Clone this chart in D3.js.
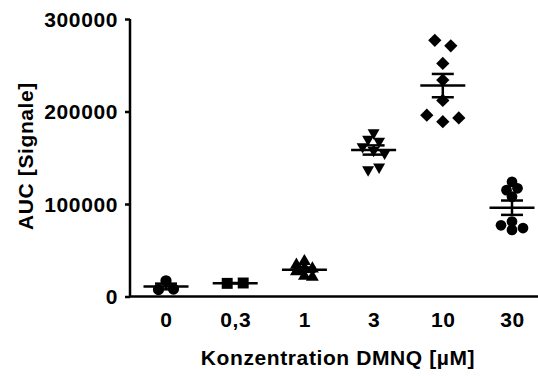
<!DOCTYPE html>
<html><head><meta charset="utf-8">
<script src="https://cdn.jsdelivr.net/npm/d3@7"></script>
<style>body{margin:0;background:#fff}svg{display:block}text{font-family:"Liberation Sans",Arial,sans-serif;font-weight:bold;fill:#000}</style>
</head><body><svg id="c" width="538" height="376"></svg>
<script>
const categories = ["0", "0,3", "1", "3", "10", "30"];
const g0   = [7500, 8000, 17000];
const g03  = [14200, 14600];
const g1   = [38000, 34000, 31000, 30000, 27000, 22000, 21000];
const g3   = [177000, 170000, 168000, 162000, 158000, 155000, 137000, 140000];
const g10  = [277000, 271000, 252000, 234000, 212000, 196000, 189000, 193000];
const g30  = [124000, 115000, 117000, 108000, 77000, 72000, 81000, 74000];
const seriesValues = [g0, g03, g1, g3, g10, g30];
const yTicks = [0, 100000, 200000, 300000];
const yLabel = "AUC [Signale]";
const xLabel = "Konzentration DMNQ [µM]";

const FS = "21px", LS = "0.6px";
const svg = d3.select("#c");
const x = d3.scalePoint().domain(categories).range([166, 512]);
const y = d3.scaleLinear().domain([0, 300000]).range([296.5, 19]);

const shapes = [
  {type: d3.symbolCircle, size: 100, rot: 0, step: 15, row: 6},
  {type: d3.symbolSquare, size: 120, rot: 0, step: 16, row: 6},
  {type: d3.symbolTriangle, size: 72, rot: 0, step: 8, row: 7},
  {type: d3.symbolTriangle, size: 62, rot: 180, step: 11, row: 7},
  {type: d3.symbolSquare, size: 88, rot: 45, step: 16, row: 7},
  {type: d3.symbolCircle, size: 90, rot: 0, step: 11, row: 5}
];

// axes
const yAxis = d3.axisLeft(y).tickValues(yTicks).tickSize(5).tickPadding(7).tickFormat(d3.format("d"));
const ga = svg.append("g").attr("transform", "translate(130,0)").call(yAxis);
ga.select(".domain").attr("stroke", "#000").attr("stroke-width", 2.5).attr("d", `M0,${y(300000)}V${y(0)}`);
ga.selectAll(".tick line").attr("stroke", "#000").attr("stroke-width", 2.5);
ga.selectAll(".tick text").attr("font-size", FS).style("letter-spacing", LS)
  .attr("font-family", "Liberation Sans, Arial, sans-serif").attr("font-weight", "bold").attr("dy", "0.35em");

const xAxis = d3.axisBottom(x).tickSize(0).tickPadding(15.5);
const gx = svg.append("g").attr("transform", `translate(0,${y(0)})`).call(xAxis);
gx.select(".domain").attr("stroke", "#000").attr("stroke-width", 2.5).attr("d", `M129,0H538`);
gx.selectAll(".tick text").attr("font-size", FS).style("letter-spacing", LS)
  .attr("font-family", "Liberation Sans, Arial, sans-serif").attr("font-weight", "bold");

// column-scatter layout: points of similar height share a row and are spread symmetrically
function rowsLayout(vals, step, rowH) {
  const order = vals.map((v, i) => i).sort((a, b) => vals[a] - vals[b]);
  const rows = [];
  order.forEach(i => {
    const py = y(vals[i]);
    const last = rows[rows.length - 1];
    if (last && Math.abs(last.y0 - py) < rowH) last.items.push(i);
    else rows.push({y0: py, items: [i]});
  });
  const off = new Array(vals.length).fill(0);
  rows.forEach(r => {
    const items = r.items.slice().sort((a, b) => a - b);
    items.forEach((i, k) => { off[i] = (k - (items.length - 1) / 2) * step; });
  });
  return off;
}

seriesValues.forEach((vals, gi) => {
  const cx = x(categories[gi]);
  const sh = shapes[gi];
  const offs = rowsLayout(vals, sh.step, sh.row);
  const sym = d3.symbol().type(sh.type).size(sh.size);
  svg.append("g").selectAll("path").data(vals).join("path")
    .attr("d", sym)
    .attr("fill", "#000")
    .attr("transform", (d, i) => `translate(${cx + offs[i]},${y(d)}) rotate(${sh.rot})`);
  const mean = d3.mean(vals);
  const sem = d3.deviation(vals) / Math.sqrt(vals.length);
  const gm = svg.append("g").attr("stroke", "#000").attr("stroke-width", 2.5);
  gm.append("line").attr("x1", cx - 22.5).attr("x2", cx + 22.5).attr("y1", y(mean)).attr("y2", y(mean));
  gm.append("line").attr("x1", cx).attr("x2", cx).attr("y1", y(mean - sem)).attr("y2", y(mean + sem));
  gm.append("line").attr("x1", cx - 11).attr("x2", cx + 11).attr("y1", y(mean - sem)).attr("y2", y(mean - sem));
  gm.append("line").attr("x1", cx - 11).attr("x2", cx + 11).attr("y1", y(mean + sem)).attr("y2", y(mean + sem));
});

svg.append("text").attr("x", 338).attr("y", 365).attr("text-anchor", "middle")
  .attr("font-size", FS).style("letter-spacing", LS).text(xLabel);
svg.append("text").attr("transform", "translate(32.5,156) rotate(-90)").attr("text-anchor", "middle")
  .attr("font-size", FS).style("letter-spacing", LS).text(yLabel);
</script></body></html>
